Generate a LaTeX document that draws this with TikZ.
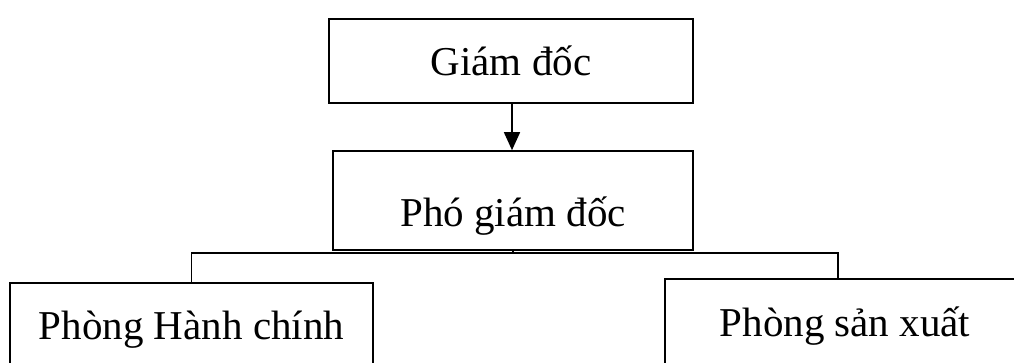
\documentclass[tikz,border=0pt]{standalone}
\usepackage{fontspec}
\setmainfont{Liberation Serif}
\usetikzlibrary{arrows.meta}
\begin{document}
\begin{tikzpicture}[x=1pt,y=1pt,
  box/.style={draw=black, line width=1.6pt, rectangle, inner sep=0pt, font=\fontsize{41}{48}\selectfont, text depth=9pt},
  conn/.style={draw=black, line width=1.6pt}]
\useasboundingbox (0,0) rectangle (1014,363);
\clip (0,0) rectangle (1014,363);
\node[box, minimum width=364pt, minimum height=84pt, text height=39pt] (gd) at (511,302) {Giám đốc};
\node[box, minimum width=360pt, minimum height=99pt, text height=61pt] (pgd) at (513,162.5) {Phó giám đốc};
\node[box, minimum width=363pt, minimum height=84pt, text height=38pt] (hc) at (191.5,38) {Phòng Hành chính};
\node[box, minimum width=360pt, minimum height=86pt, text height=39pt] (sx) at (845,41) {Phòng sản xuất};
\coordinate (bus) at (513,110);
\coordinate (rdrop) at (838,110);
\draw[conn, -{Triangle[length=18pt,width=16pt]}] (gd.south -| 512,0) -- (pgd.north -| 512,0);
\draw[conn] (pgd.south) -- (bus);
\draw[conn] (hc.north) |- (bus) -- (rdrop) -- (rdrop |- sx.north);
\end{tikzpicture}
\end{document}
